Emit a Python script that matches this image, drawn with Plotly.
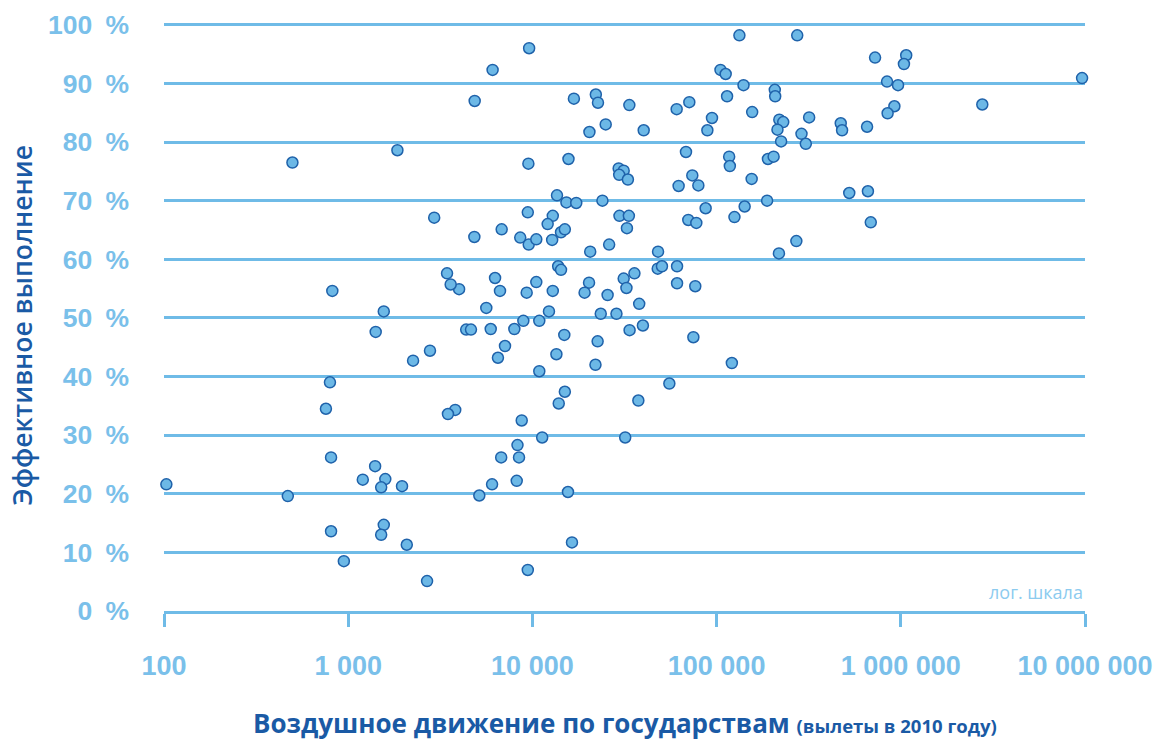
import plotly.graph_objects as go

# Departures in 2010 per state (log scale) vs. effective implementation (%)
departures = [
    1850, 498, 2930, 4860, 6080, 9600, 16800, 22100, 22700, 33600,
    20400, 25000, 40200, 60700, 71100, 105000, 112000, 133000, 140000, 114000,
    94400, 89100, 156000, 207000, 208000, 68200, 117000, 118000, 190000, 204000,
    73800, 79600, 62200, 155000, 87200, 142000, 188000, 9510, 15700, 29400,
    31300, 29600, 33000, 13600, 15300, 17300, 24000, 9440, 12900, 274000,
    725000, 1070000, 1040000, 9640000, 842000, 966000, 2770000, 923000, 848000, 219000,
    230000, 318000, 214000, 289000, 305000, 224000, 472000, 480000, 656000, 525000,
    663000, 687000, 271000, 218000, 29700, 33400, 32600, 4840, 6810, 8590,
    9550, 10500, 12100, 14300, 15000, 12800, 20600, 26100, 48100, 70200,
    77600, 125000, 4000, 6270, 6670, 9310, 10500, 12900, 13800, 14300,
    20300, 19200, 25600, 31300, 32400, 35800, 38000, 47900, 50500, 61000,
    61000, 76600, 5620, 8930, 10900, 12300, 23500, 28600, 39800, 33700,
    4370, 4640, 5940, 7980, 14900, 22600, 74800, 7100, 6500, 13500,
    22000, 10900, 121000, 55400, 15000, 13900, 37600, 820, 3440, 3600,
    1560, 1410, 2780, 2250, 796, 757, 3810, 3480, 807, 1400,
    103, 1200, 1590, 1510, 1960, 470, 1560, 1510, 807, 2080,
    947, 2680, 8750, 11300, 31900, 8300, 6770, 8460, 8220, 6040,
    5150, 15600, 16400, 9440,
]
implementation = [
    78.6, 76.5, 67.1, 87.0, 92.3, 96.0, 87.4, 88.1, 86.7, 86.3,
    81.7, 83.0, 82.0, 85.6, 86.8, 92.3, 91.6, 98.2, 89.7, 87.8,
    84.1, 82.0, 85.1, 88.9, 87.8, 78.3, 77.5, 75.9, 77.1, 77.5,
    74.3, 72.6, 72.5, 73.7, 68.7, 69.0, 70.0, 76.3, 77.1, 75.5,
    75.1, 74.4, 73.6, 70.9, 69.7, 69.6, 70.0, 68.0, 67.4, 98.2,
    94.4, 94.8, 93.3, 90.9, 90.3, 89.7, 86.4, 86.1, 84.9, 83.8,
    83.4, 84.2, 82.1, 81.4, 79.7, 80.1, 83.2, 82.0, 82.6, 71.3,
    71.6, 66.3, 63.1, 61.0, 67.4, 67.4, 65.3, 63.8, 65.1, 63.7,
    62.5, 63.4, 66.0, 64.6, 65.1, 63.3, 61.3, 62.5, 61.3, 66.7,
    66.2, 67.2, 54.9, 56.8, 54.6, 54.3, 56.1, 54.6, 58.8, 58.2,
    56.0, 54.3, 53.9, 56.7, 55.1, 57.6, 52.4, 58.4, 58.8, 58.8,
    55.9, 55.4, 51.7, 49.5, 49.5, 51.1, 50.7, 50.7, 48.7, 47.9,
    48.0, 48.0, 48.1, 48.1, 47.1, 46.0, 46.7, 45.2, 43.2, 43.8,
    42.0, 40.9, 42.3, 38.8, 37.4, 35.4, 35.9, 54.6, 57.6, 55.7,
    51.1, 47.6, 44.4, 42.7, 39.0, 34.5, 34.3, 33.6, 26.2, 24.7,
    21.6, 22.4, 22.5, 21.1, 21.3, 19.6, 14.7, 13.0, 13.6, 11.3,
    8.5, 5.1, 32.5, 29.6, 29.6, 28.3, 26.2, 26.2, 22.2, 21.6,
    19.7, 20.3, 11.7, 7.0,
]

x_tickvals = [100, 1000, 10000, 100000, 1000000, 10000000]
x_ticktext = ["100", "1 000", "10 000", "100 000", "1 000 000", "10 000 000"]
y_tickvals = [0, 10, 20, 30, 40, 50, 60, 70, 80, 90, 100]
y_ticktext = [f"{v}\u2002%" for v in y_tickvals]

GRID = "#6fbbe7"
TICK_TEXT = "#7ac0ea"
DARK = "#1a5aa5"
FILL = "#6cb8e6"
EDGE = "#1f62aa"

fig = go.Figure(
    go.Scatter(
        x=departures,
        y=implementation,
        mode="markers",
        marker=dict(size=11, color=FILL, line=dict(color=EDGE, width=1.5)),
        cliponaxis=False,
        hoverinfo="x+y",
    )
)

fig.update_layout(
    width=1155,
    height=742,
    margin=dict(l=164, r=70, t=23, b=131),
    paper_bgcolor="white",
    plot_bgcolor="white",
    showlegend=False,
    xaxis=dict(
        type="log",
        range=[2, 7],
        automargin=False,
        tickvals=x_tickvals,
        ticktext=x_ticktext,
        showgrid=False,
        zeroline=False,
        showline=True,
        linecolor=GRID,
        linewidth=3,
        ticks="outside",
        ticklen=13,
        tickwidth=3,
        tickcolor=GRID,
        ticklabelstandoff=16,
        tickfont=dict(family="Liberation Sans, Arial, sans-serif", size=27, color=TICK_TEXT, weight=700),
    ),
    yaxis=dict(
        range=[0, 100.3],
        automargin=False,
        tickvals=y_tickvals,
        ticktext=y_ticktext,
        showgrid=True,
        gridcolor=GRID,
        gridwidth=3,
        zeroline=False,
        showline=False,
        ticks="",
        ticklabelstandoff=34,
        tickfont=dict(family="Liberation Sans, Arial, sans-serif", size=26.5, color=TICK_TEXT, weight=700),
    ),
    annotations=[
        dict(
            text="Эффективное выполнение",
            xref="paper", yref="paper",
            x=-0.154, y=0.486,
            xanchor="center", yanchor="middle",
            textangle=-90,
            showarrow=False,
            font=dict(family="Open Sans, sans-serif", size=26.5, color=DARK, weight=600),
        ),
        dict(
            text="Воздушное движение по государствам "
                 "<span style='font-size:18.5px'>(вылеты в 2010 году)</span>",
            xref="paper", yref="paper",
            x=0.5, y=-0.19,
            xanchor="center", yanchor="middle",
            showarrow=False,
            font=dict(family="Open Sans, sans-serif", size=26, color=DARK, weight=700),
        ),
        dict(
            text="лог. шкала",
            xref="paper", yref="paper",
            x=1.0, y=0.032,
            xanchor="right", yanchor="middle",
            showarrow=False,
            font=dict(family="Open Sans, sans-serif", size=18, color="#8ccbef"),
        ),
    ],
)

fig.write_html("out.html")
